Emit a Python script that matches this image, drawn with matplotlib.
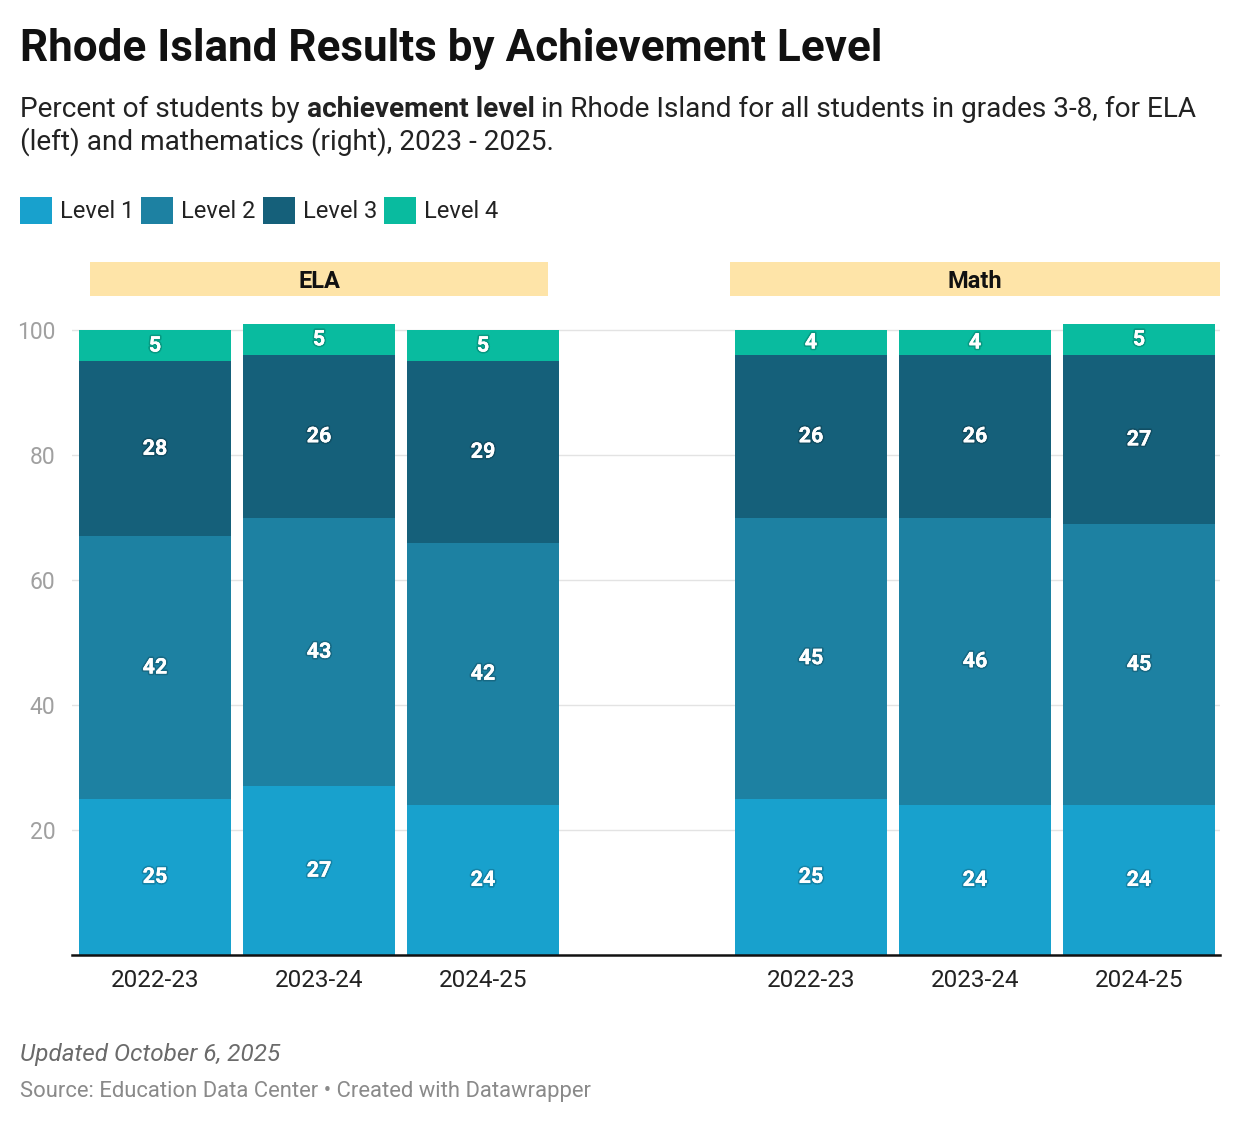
import matplotlib
matplotlib.use("Agg")
import matplotlib.pyplot as plt
import matplotlib.patheffects as pe
from matplotlib.patches import Rectangle

plt.rcParams['font.family'] = ['Roboto', 'DejaVu Sans']

# data
years = ['2022-23', '2023-24', '2024-25']
subjects = ['ELA', 'Math']
levels = ['Level 1', 'Level 2', 'Level 3', 'Level 4']
colors = ['#18a1cd', '#1d81a2', '#15607a', '#09bb9f']

ela = {
    'Level 1': [25, 27, 24],
    'Level 2': [42, 43, 42],
    'Level 3': [28, 26, 29],
    'Level 4': [5, 5, 5],
}
math_ = {
    'Level 1': [25, 24, 24],
    'Level 2': [45, 46, 45],
    'Level 3': [26, 26, 27],
    'Level 4': [4, 4, 5],
}

W, H = 1240, 1124
fig = plt.figure(figsize=(W / 100, H / 100), dpi=100)


def fx(x):
    return x / W


def fy(y):
    return 1 - y / H


ax = fig.add_axes([fx(72), fy(955), fx(1220) - fx(72), fy(323.75) - fy(955)])

positions = [0, 1, 2, 4, 5, 6]
width = 0.927
bottoms = [0] * 6
for lev, col in zip(levels, colors):
    vals = ela[lev] + math_[lev]
    ax.bar(positions, vals, width=width, bottom=bottoms, color=col, zorder=3)
    for p, v, b in zip(positions, vals, bottoms):
        ax.text(p, b + v / 2, str(v), ha='center', va='center', color='white',
                fontsize=15.5, fontweight='bold', zorder=5,
                path_effects=[pe.withStroke(linewidth=2.5, foreground=(0, 0, 0, 0.18)), pe.Normal()])
    bottoms = [b + v for b, v in zip(bottoms, vals)]

ax.set_xlim(-0.506, 6.494)
ax.set_ylim(0, 101)
ax.set_xticks(positions)
ax.set_xticklabels(years + years, fontsize=17.5, color='#222222')
ax.set_yticks([20, 40, 60, 80, 100])
ax.set_yticklabels(['20', '40', '60', '80', '100'], fontsize=16.5, color='#a0a0a0')
ax.tick_params(axis='x', length=0, pad=10)
ax.tick_params(axis='y', length=0, pad=12)
ax.grid(axis='y', color='#e3e3e3', lw=1, zorder=0)
for s in ['top', 'right', 'left']:
    ax.spines[s].set_visible(False)
ax.spines['bottom'].set_color('#111111')
ax.spines['bottom'].set_linewidth(1.8)
ax.spines['bottom'].set_zorder(4)

# panel headers
for label, x0, x1 in [('ELA', 90, 548), ('Math', 730, 1220)]:
    fig.add_artist(Rectangle((fx(x0), fy(296)), fx(x1) - fx(x0), fy(262) - fy(296),
                             transform=fig.transFigure, color='#fee4a8', lw=0))
    fig.text(fx((x0 + x1) / 2), fy(281), label, ha='center', va='center',
             fontsize=17, fontweight='bold', color='#111111')

# title
fig.text(fx(20), fy(61), 'Rhode Island Results by Achievement Level', fontsize=31.7,
         fontweight='bold', color='#111111', va='baseline')

# subtitle with bold part
fig.canvas.draw()
renderer = fig.canvas.get_renderer()
x = fx(20)
parts = [('Percent of students by ', 'normal'), ('achievement level', 'bold'),
         (' in Rhode Island for all students in grades 3-8, for ELA', 'normal')]
for txt, wt in parts:
    t = fig.text(x, fy(117), txt, fontsize=20.2, fontweight=wt, color='#222222', va='baseline')
    bb = t.get_window_extent(renderer)
    x = x + bb.width / W
fig.text(fx(20), fy(150), '(left) and mathematics (right), 2023 - 2025.', fontsize=20.2,
         color='#222222', va='baseline')

# legend
x = 20
for lev, col in zip(levels, colors):
    fig.add_artist(Rectangle((fx(x), fy(224)), fx(32), fy(197) - fy(224),
                             transform=fig.transFigure, color=col, lw=0))
    t = fig.text(fx(x + 40), fy(218), lev, fontsize=17, color='#222222', va='baseline')
    bb = t.get_window_extent(renderer)
    x = x + 40 + bb.width + 7

# footer
fig.text(fx(20), fy(1061), 'Updated October 6, 2025', fontsize=17.5, style='italic',
         color='#6b6b6b', va='baseline')
fig.text(fx(20), fy(1097), 'Source: Education Data Center \u2022 Created with Datawrapper',
         fontsize=15.8, color='#8a8a8a', va='baseline')

fig.savefig('out.png', dpi=100)
